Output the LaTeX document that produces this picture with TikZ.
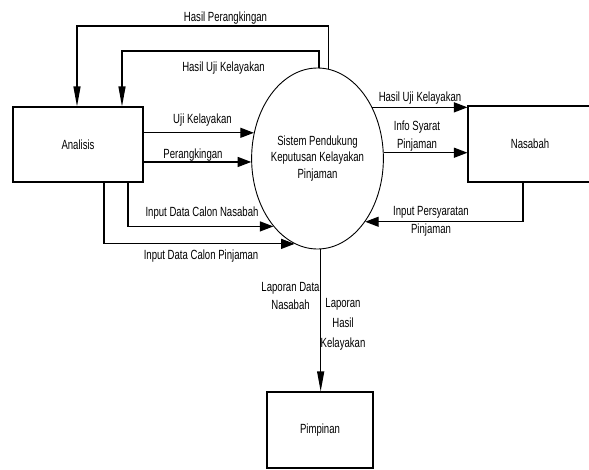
\documentclass[tikz,border=0pt]{standalone}
\usepackage{fontspec}
\setmainfont{Liberation Sans}[FakeStretch=0.72]
\usetikzlibrary{arrows.meta,shapes.geometric}
\tikzset{
  lab/.style={inner sep=0pt, font=\fontsize{13.3}{16}\selectfont},
  entity/.style={draw, line width=1.1pt, inner sep=0pt, font=\fontsize{13.3}{16}\selectfont},
  proc/.style={draw, ellipse, line width=0.9pt, inner sep=0pt, align=center,
    minimum width=121pt, minimum height=181pt, font=\fontsize{13.3}{16.7}\selectfont},
  hflow/.style={line width=1.2pt, -{Triangle[length=13.5pt,width=10pt]}},
  vflow/.style={line width=1.2pt, -{Triangle[length=20pt,width=7pt]}}
}
\begin{document}
\begin{tikzpicture}[x=1pt,y=-1pt]
\useasboundingbox (0,0) rectangle (589,469);
% entities
\node[entity, minimum width=130pt, minimum height=75pt] (analisis) at (78,144.5) {Analisis};
\node[entity, minimum width=124pt, minimum height=76pt] (nasabah) at (530,144) {Nasabah};
\node[entity, minimum width=106pt, minimum height=76pt] (pimpinan) at (320,430) {Pimpinan};
\node[proc] (ell) at (317.5,158.5) {Sistem Pendukung\\Keputusan Kelayakan\\Pinjaman};
% bend points
\coordinate (hpc) at (77,26);
\coordinate (huc) at (122,51);
% connectors
\draw[vflow] (ell.83.3) |- (hpc) -- (hpc |- analisis.north);
\draw[vflow] (ell.89) |- (huc) -- (huc |- analisis.north);
\draw[hflow] (ell.158.1 -| analisis.east) -- (ell.158.1);
\draw[hflow] (ell.183.3 -| analisis.east) -- (ell.183.3);
\draw[hflow] ([xshift=50pt]analisis.south) |- (ell.237.5);
\draw[hflow] ([xshift=26pt]analisis.south) |- (ell.255.6);
\draw[hflow] (ell.43.5) -- (ell.43.5 -| nasabah.west);
\draw[hflow] (ell.5.2) -- (ell.5.2 -| nasabah.west);
\draw[hflow] ([xshift=-7pt]nasabah.south) |- (ell.307.5);
\draw[vflow] (ell.272.2) -- (ell.272.2 |- pimpinan.north);
% labels
\node[lab, anchor=base] (lhp) at (225.5,21) {Hasil Perangkingan};
\node[lab, anchor=base] (lhu1) at (223.5,71) {Hasil Uji Kelayakan};
\node[lab, anchor=base] (luk) at (202.5,123.8) {Uji Kelayakan};
\node[lab, anchor=base] (lpr) at (193,158.5) {Perangkingan};
\node[lab, anchor=base] (lidcn) at (202,216.8) {Input Data Calon Nasabah};
\node[lab, anchor=base] (lidcp) at (201,259.5) {Input Data Calon Pinjaman};
\node[lab, anchor=base] (lhu2) at (420,101) {Hasil Uji Kelayakan};
\node[lab, anchor=north, align=center, font=\fontsize{13.3}{18.8}\selectfont] (lis) at (417,120.3) {Info Syarat\\Pinjaman};
\node[lab, anchor=north, align=center, font=\fontsize{13.3}{17.5}\selectfont] (lip) at (431,206.5) {Input Persyaratan\\Pinjaman};
\node[lab, anchor=north, align=center, font=\fontsize{13.3}{18}\selectfont] (lld) at (290.5,282.5) {Laporan Data\\Nasabah};
\node[lab, anchor=north, align=center, font=\fontsize{13.3}{20}\selectfont] (llh) at (343,298.3) {Laporan\\Hasil\\Kelayakan};
\end{tikzpicture}
\end{document}
